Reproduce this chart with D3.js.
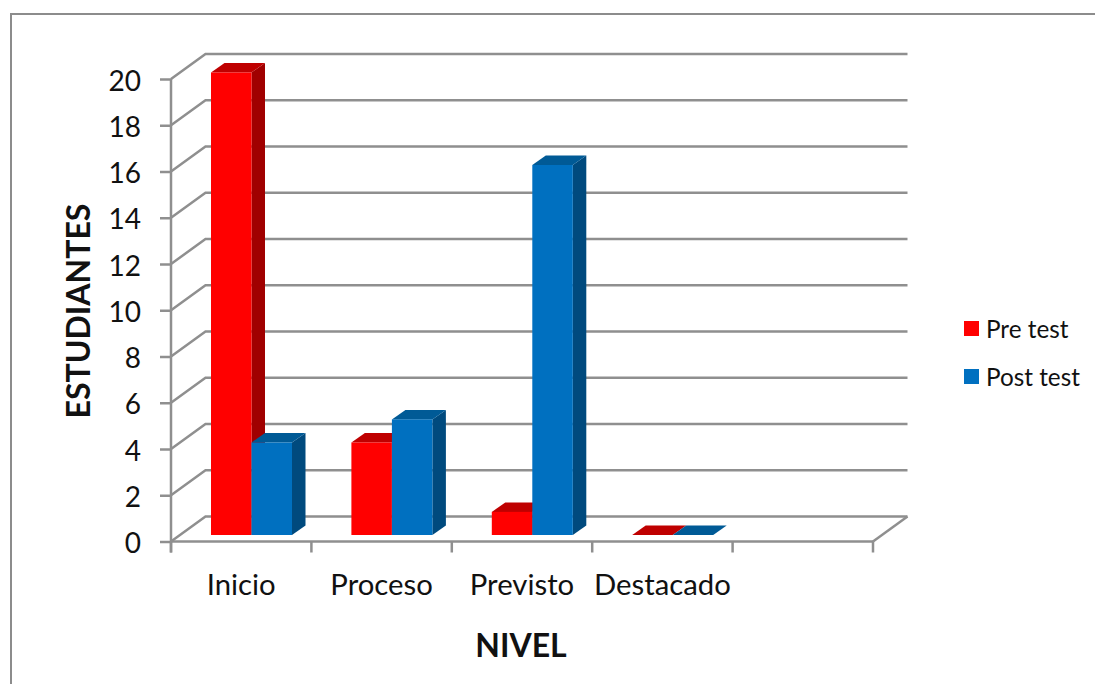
<!DOCTYPE html>
<html>
<head>
<meta charset="utf-8">
<script src="https://cdn.jsdelivr.net/npm/d3@7/dist/d3.min.js"></script>
<style>
  html, body { margin: 0; padding: 0; background: #fff; }
  svg { display: block; }
  text { font-family: Lato, "Open Sans", sans-serif; fill: #111; }
</style>
</head>
<body>
<div id="chart"></div>
<script>
const categories = ["Inicio", "Proceso", "Previsto", "Destacado", ""];
const seriesNames = ["Pre test", "Post test"];
const preTest = [20, 4, 1, 0];
const postTest = [4, 5, 16, 0];
const yTicks = [0, 2, 4, 6, 8, 10, 12, 14, 16, 18, 20];
const seriesColors = { "Pre test": ["#ff0000", "#bf0000", "#a00000"], "Post test": ["#0070c0", "#005a96", "#004a7e"] };

const width = 1095, height = 684;
const grid = "#8f8f8f";

// Oblique projection: the back wall sits up and to the right of the front plane.
const wall = { dx: 34.5, dy: -25 };
const barShift = { dx: 10, dy: -6.5 };
const barDepth = { dx: 13.5, dy: -9.5 };

const x = d3.scaleBand().domain(categories).range([171, 873]);
const y = d3.scaleLinear().domain([0, 20]).range([541.5, 79]);
const barGroup = d3.scaleBand().domain(seriesNames).range([30, 111]);

const svg = d3.select("#chart").append("svg").attr("width", width).attr("height", height);

// Outer chart frame, running off the right and bottom edges
svg.append("path")
  .attr("d", "M11,684V14H1095")
  .attr("fill", "none").attr("stroke", "#8c8c8c").attr("stroke-width", 2);

// Side wall and back wall gridlines, plus the floor's right edge
const gridG = svg.append("g").attr("fill", "none").attr("stroke", grid).attr("stroke-width", 2.5);
gridG.selectAll("path").data(yTicks).join("path")
  .attr("d", d => `M171,${y(d)}L${171 + wall.dx},${y(d) + wall.dy}H${873 + wall.dx}`);
gridG.append("path")
  .attr("d", `M873,${y(0)}L${873 + wall.dx},${y(0) + wall.dy}`);

// Axes
const yAxis = svg.append("g").attr("transform", "translate(171,0)")
  .call(d3.axisLeft(y).tickValues(yTicks).tickSize(11).tickPadding(19));
const xEdges = d3.range(categories.length + 1).map(i => 171 + i * x.step());
const xAxis = svg.append("g").attr("transform", `translate(0,${y(0)})`)
  .call(d3.axisBottom(x).tickSize(0).tickPadding(33));
xAxis.selectAll("g.edge").data(xEdges).join("line")
  .attr("x1", d => d).attr("x2", d => d).attr("y1", 0).attr("y2", 11);
[yAxis, xAxis].forEach(a => {
  a.selectAll("path.domain").attr("stroke", grid).attr("stroke-width", 2.5);
  a.selectAll("line").attr("stroke", grid).attr("stroke-width", 2.5);
  a.selectAll("text").style("font-family", "Lato, sans-serif").attr("fill", "#111");
  a.attr("font-family", null).attr("font-size", null);
});
yAxis.selectAll("text").style("font-size", "28px").attr("dy", "0.4em");
xAxis.selectAll("text").style("font-size", "29.3px");
yAxis.select("path.domain").attr("d", `M0,${y(20)}V${y(0) + 11}`);
xAxis.select("path.domain").attr("d", `M171,0H873`);

// Bars: each is a front face plus an oblique top and side
const barData = [];
categories.slice(0, preTest.length).forEach((c, i) => {
  barData.push({ cat: c, s: "Pre test", v: preTest[i] });
  barData.push({ cat: c, s: "Post test", v: postTest[i] });
});
const bars = svg.append("g").selectAll("g").data(barData).join("g");
const bw = barGroup.bandwidth();
const bx = d => x(d.cat) + barGroup(d.s) + barShift.dx;
const bTop = d => y(d.v) + barShift.dy;
const bBase = y(0) + barShift.dy;

bars.append("path").attr("fill", d => seriesColors[d.s][2])
  .attr("d", d => `M${bx(d) + bw},${bTop(d)}l${barDepth.dx},${barDepth.dy}V${bBase + barDepth.dy}l${-barDepth.dx},${-barDepth.dy}Z`);
bars.append("path").attr("fill", d => seriesColors[d.s][1])
  .attr("d", d => `M${bx(d)},${bTop(d)}l${barDepth.dx},${barDepth.dy}h${bw}l${-barDepth.dx},${-barDepth.dy}Z`);
bars.append("rect").attr("fill", d => seriesColors[d.s][0])
  .attr("x", bx).attr("y", bTop).attr("width", bw).attr("height", d => bBase - bTop(d));

// Axis titles
svg.append("text").attr("transform", "translate(90,311) rotate(-90)")
  .attr("text-anchor", "middle").style("font-size", "32px").style("font-weight", 700).text("ESTUDIANTES");
svg.append("text").attr("x", 521).attr("y", 657)
  .attr("text-anchor", "middle").style("font-size", "32px").style("font-weight", 700).text("NIVEL");

// Legend
const legend = svg.append("g").selectAll("g").data(seriesNames).join("g")
  .attr("transform", (d, i) => `translate(964,${321 + i * 48})`);
legend.append("rect").attr("width", 15).attr("height", 15).attr("fill", d => seriesColors[d][0]);
legend.append("text").attr("x", 22).attr("y", 16.5).style("font-size", "24.3px").text(d => d);
</script>
</body>
</html>
